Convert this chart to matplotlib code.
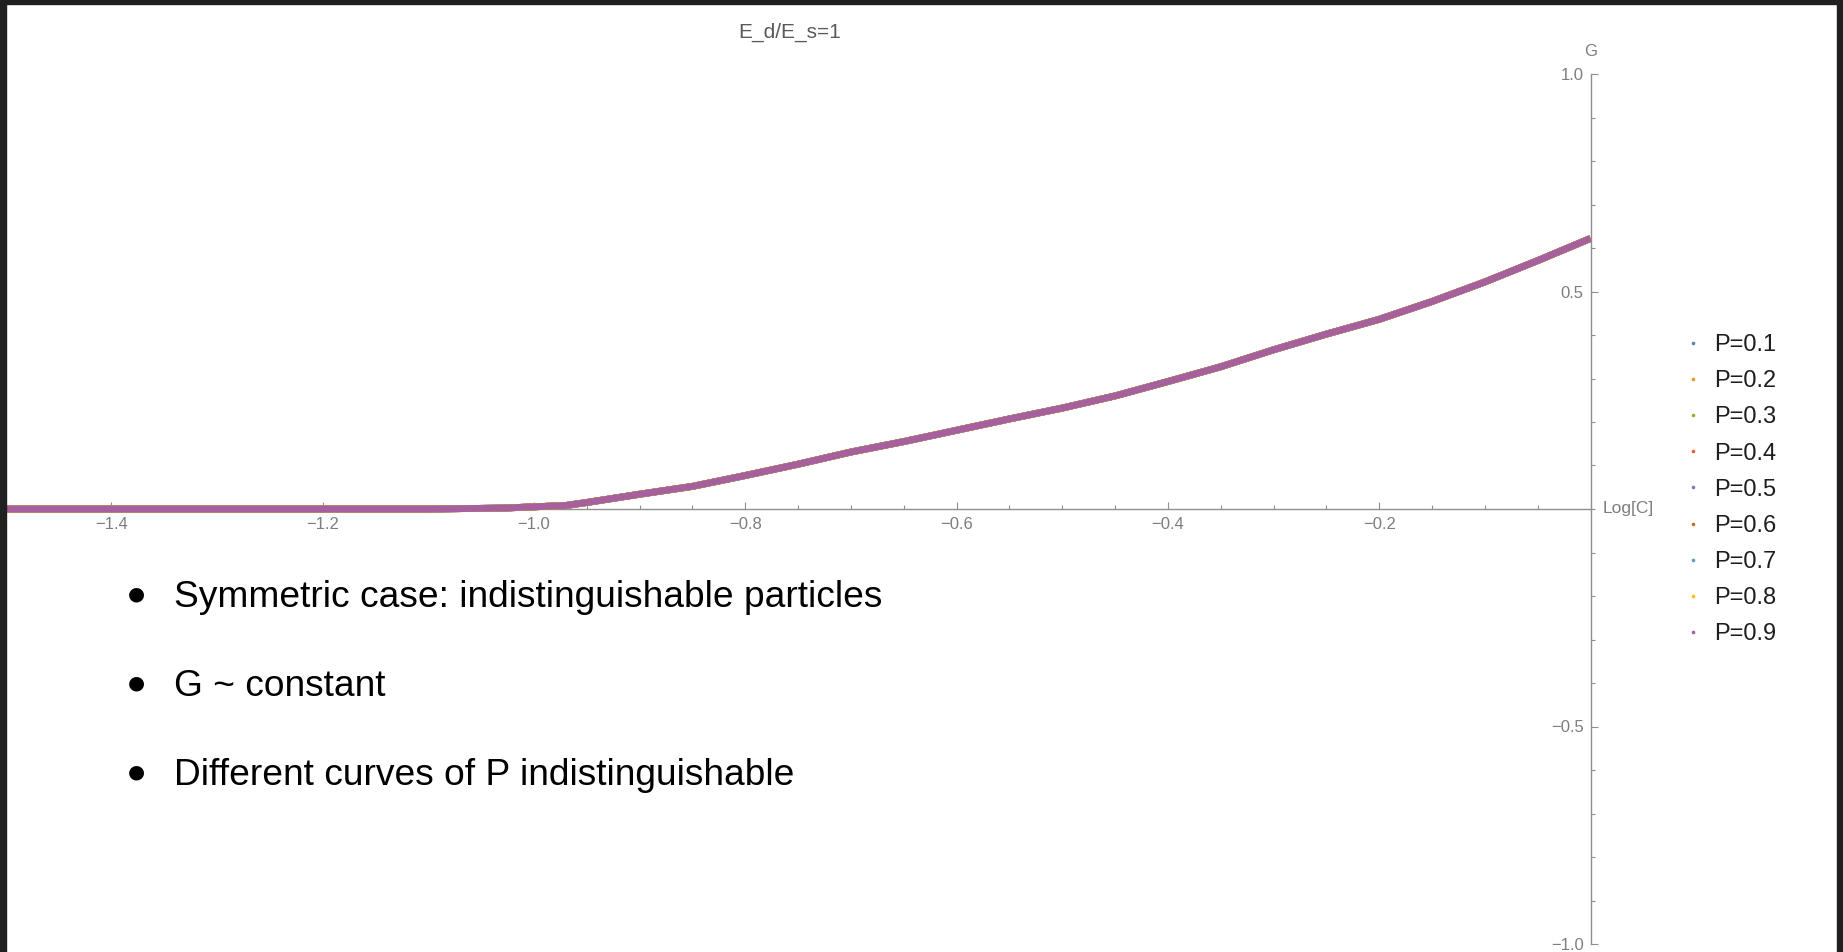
import matplotlib
matplotlib.use("Agg")
import matplotlib.pyplot as plt
from matplotlib.lines import Line2D
from matplotlib.patches import Rectangle
from matplotlib.ticker import MultipleLocator, FixedLocator

plt.rcParams['font.family'] = ['Liberation Sans', 'DejaVu Sans']

# ---------------- data ----------------
log_c = [-1.5, -1.4, -1.3, -1.2, -1.1, -1.03, -1.0, -0.97, -0.95, -0.9,
         -0.85, -0.8, -0.75, -0.7, -0.65, -0.6, -0.55, -0.5, -0.45, -0.4,
         -0.35, -0.3, -0.25, -0.2, -0.15, -0.1, -0.05, 0.0]
g_values = [0.0, 0.0, 0.0, 0.0, 0.0, 0.002, 0.005, 0.008, 0.015, 0.034,
            0.052, 0.077, 0.103, 0.131, 0.155, 0.181, 0.207, 0.232, 0.26, 0.293,
            0.327, 0.366, 0.402, 0.436, 0.477, 0.522, 0.571, 0.622]
p_labels = ["P=0.1", "P=0.2", "P=0.3", "P=0.4", "P=0.5",
            "P=0.6", "P=0.7", "P=0.8", "P=0.9"]
p_colors = ["#5E81B5", "#E19C24", "#8FB032", "#EB6235", "#8778B3",
            "#C56E1A", "#5D9EC7", "#FFBF00", "#A5609D"]
x_major = [-1.4, -1.2, -1.0, -0.8, -0.6, -0.4, -0.2]
y_major = [-1.0, -0.5, 0.5, 1.0]
title = "E_d/E_s=1"
bullets = ["Symmetric case: indistinguishable particles",
           "G ~ constant",
           "Different curves of P indistinguishable"]

# ---------------- figure ----------------
W, H = 1843, 952
fig = plt.figure(figsize=(W / 100, H / 100), dpi=100)
fig.patch.set_facecolor("white")

def fx(px):
    return px / W

def fy(py):
    return 1 - py / H

ax_left, ax_right = 5.75, 1590.5
ax_top, ax_bot = 74, 944
ax = fig.add_axes([fx(ax_left), fy(ax_bot), fx(ax_right - ax_left), (ax_bot - ax_top) / H])
ax.set_xlim(-1.5, 0)
ax.set_ylim(-1, 1)

for lab, col in zip(p_labels, p_colors):
    ax.plot(log_c, g_values, color=col, lw=4.9, solid_capstyle="butt",
            solid_joinstyle="round", zorder=3, clip_on=True)

axis_col = "#8f8f8f"
lab_col = "#7d7d7d"
ax.spines["top"].set_visible(False)
ax.spines["right"].set_visible(False)
ax.spines["left"].set_position(("data", 0))
ax.spines["bottom"].set_position(("data", 0))
for s in ("left", "bottom"):
    ax.spines[s].set_color(axis_col)
    ax.spines[s].set_linewidth(1.0)
    ax.spines[s].set_zorder(1)

ax.xaxis.set_major_locator(FixedLocator(x_major))
ax.xaxis.set_minor_locator(MultipleLocator(0.05))
ax.yaxis.set_major_locator(FixedLocator(y_major))
ax.yaxis.set_minor_locator(MultipleLocator(0.1))
ax.set_xticklabels([f"{v:.1f}".replace("-", "\u2212") for v in x_major])
ax.set_yticklabels([f"{v:.1f}".replace("-", "\u2212") for v in y_major])

ax.tick_params(axis="both", which="both", direction="in", color=axis_col,
               labelcolor=lab_col, labelsize=12, width=0.8)
ax.tick_params(axis="both", which="major", length=5.0)
ax.tick_params(axis="both", which="minor", length=3.0)
ax.tick_params(axis="x", which="major", pad=5.5)
ax.tick_params(axis="y", which="major", pad=5)

ax.annotate("Log[C]", xy=(0, 0), xytext=(12, 0), textcoords="offset pixels",
            ha="left", va="center", color=lab_col, fontsize=12.5, annotation_clip=False)
ax.annotate("G", xy=(0, 1), xytext=(0, 22), textcoords="offset pixels",
            ha="center", va="center", color=lab_col, fontsize=12, annotation_clip=False)

# title
fig.text(fx(790), fy(32), title, ha="center", va="center", fontsize=15, color="#5a5a5a")

# legend
handles = [Line2D([], [], ls="none", marker="o", ms=2.6, mec="none", color=c) for c in p_colors]
fig.legend(handles, p_labels, loc="upper left", bbox_to_anchor=(fx(1687), fy(334)),
           frameon=False, fontsize=17, handlelength=0.5, handletextpad=0.64,
           labelspacing=0.6, borderpad=0, borderaxespad=0, labelcolor="#1e1e1e")

# bullet text
bullet_y = [594, 683, 772]
for yy, txt in zip(bullet_y, bullets):
    fig.text(fx(136), fy(yy), "\u25CF", ha="center", va="center", fontsize=14,
             color="black", family=["DejaVu Sans"])
    fig.text(fx(174), fy(yy + 13), txt, ha="left", va="baseline", fontsize=26.7,
             color="black")

# dark slide border
border = "#202020"
fig.add_artist(Rectangle((0, 0), fx(6), 1, transform=fig.transFigure, color=border, zorder=10))
fig.add_artist(Rectangle((0, fy(4)), 1, 4 / H, transform=fig.transFigure, color=border, zorder=10))
fig.add_artist(Rectangle((fx(1837), 0), fx(6), 1, transform=fig.transFigure, color=border, zorder=10))

fig.savefig("out.png", dpi=100)
